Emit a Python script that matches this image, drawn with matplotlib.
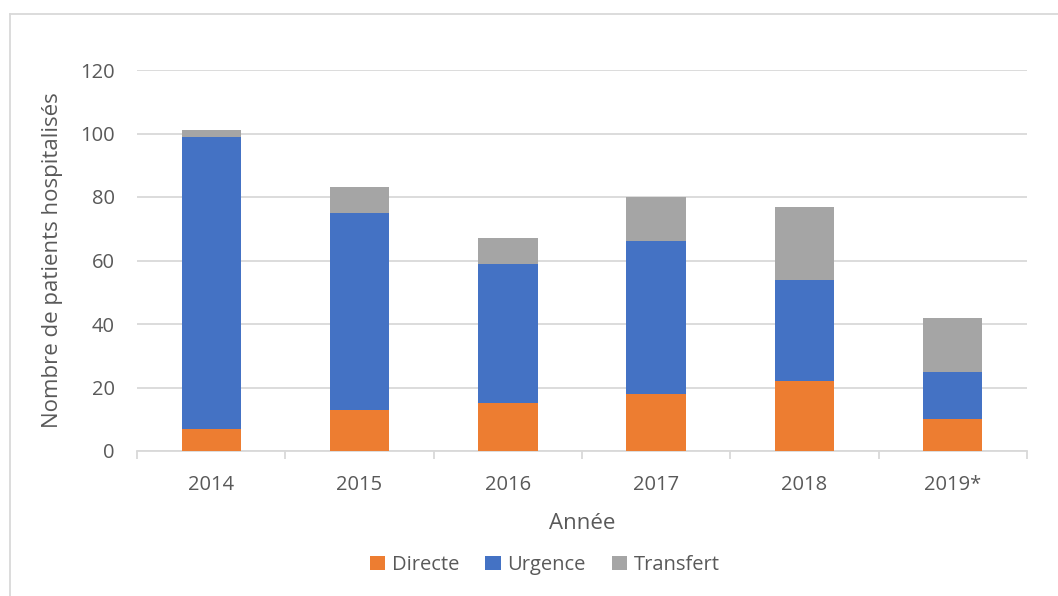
import matplotlib as mpl
mpl.use('Agg')
import matplotlib.pyplot as plt
from matplotlib.lines import Line2D
import numpy as np

# données
annees = ['2014', '2015', '2016', '2017', '2018', '2019*']
directe = [7, 13, 15, 18, 22, 10]
urgence = [92, 62, 44, 48, 32, 15]
transfert = [2, 8, 8, 14, 23, 17]

plt.rcParams['font.family'] = ['Open Sans', 'DejaVu Sans']
texte = '#595959'
grille = '#d9d9d9'

fig = plt.figure(figsize=(10.58, 5.96), dpi=100)
ax = fig.add_axes([137 / 1058, 1 - 451 / 596, 890 / 1058, 381 / 596])

x = np.arange(len(annees))
w = 0.4
base2 = np.array(directe)
base3 = base2 + np.array(urgence)
ax.bar(x, directe, w, color='#ed7d31', label='Directe', zorder=3)
ax.bar(x, urgence, w, bottom=base2, color='#4472c4', label='Urgence', zorder=3)
ax.bar(x, transfert, w, bottom=base3, color='#a5a5a5', label='Transfert', zorder=3)

ax.set_xlim(-0.5, len(annees) - 0.5)
ax.set_ylim(0, 120)
ax.set_yticks(range(0, 121, 20))
ax.yaxis.grid(True, color=grille, linewidth=1.3, zorder=0)
ax.tick_params(axis='y', length=0, pad=16, labelsize=14.5, labelcolor=texte)

ax.set_xticks(x)
ax.set_xticklabels(annees)
ax.set_xticks(np.arange(-0.5, len(annees)), minor=True)
ax.tick_params(axis='x', which='major', length=0, pad=17, labelsize=14.5, labelcolor=texte)
ax.tick_params(axis='x', which='minor', length=6, width=1.3, color=grille)

for s in ['top', 'right', 'left']:
    ax.spines[s].set_visible(False)
ax.spines['bottom'].set_color(grille)
ax.spines['bottom'].set_linewidth(1.3)

ax.set_xlabel('Année', fontsize=16, color=texte, labelpad=13)
ax.set_ylabel('Nombre de patients hospitalisés', fontsize=16, color=texte, labelpad=12)

ax.legend(loc='center', bbox_to_anchor=(545 / 1058, 1 - 565 / 596),
          bbox_transform=fig.transFigure, ncol=3, frameon=False,
          fontsize=14.5, labelcolor=texte, handlelength=0.75, handleheight=0.75,
          handletextpad=0.35, columnspacing=1.3)

# cadre de la zone de graphique
fig.add_artist(Line2D([10 / 1058, 10 / 1058], [0, 1 - 14 / 596],
                      transform=fig.transFigure, color=grille, linewidth=1.3))
fig.add_artist(Line2D([10 / 1058, 1], [1 - 14 / 596, 1 - 14 / 596],
                      transform=fig.transFigure, color=grille, linewidth=1.3))

fig.savefig('out.png', dpi=100)
plt.close()
